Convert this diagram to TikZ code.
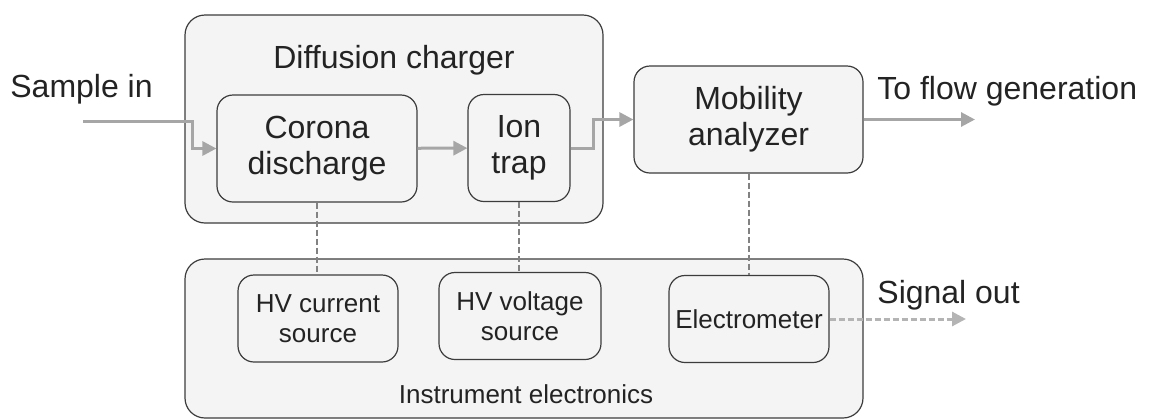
\documentclass[tikz,border=0pt]{standalone}
\usepackage{fontspec}
\setmainfont{Liberation Sans}
\usetikzlibrary{arrows.meta,positioning}
\definecolor{box-draw}{RGB}{60,60,60}
\definecolor{box-fill}{RGB}{244,244,244}
\definecolor{flow-gray}{RGB}{166,166,166}
\definecolor{ctl-gray}{RGB}{130,130,130}
\definecolor{sig-gray}{RGB}{180,180,180}
\definecolor{txt}{RGB}{35,35,35}

\begin{document}
\begin{tikzpicture}[
 x=0.5pt, y=-0.5pt,
 grp/.style={draw=box-draw, line width=0.6pt, rounded corners=10pt, fill=box-fill, inner sep=0pt},
 box/.style={draw=box-draw, line width=0.6pt, rounded corners=8pt, fill=box-fill, align=center,
 text=txt, font=\fontsize{16}{18}\selectfont, minimum height=53.5pt, inner sep=0pt},
 sbox/.style={box, font=\fontsize{13}{15}\selectfont, minimum width=80pt, minimum height=43.5pt},
 io/.style={anchor=base west, text=txt, font=\fontsize{16}{18}\selectfont, inner sep=0pt},
 ar/.style={-{Triangle[length=7pt,width=7pt]}, flow-gray, line width=1.5pt},
 ctl/.style={ctl-gray, line width=1pt, dash pattern=on 3pt off 1.5pt},
 sig/.style={ar, sig-gray, dash pattern=on 3pt off 1.5pt},
]
 \useasboundingbox (0,0) rectangle (1152,419);
 \node[grp, minimum width=209pt, minimum height=104pt] (chg) at (394,119) {};
 \node[io, anchor=base] (chgt) at (394,68) {Diffusion charger};
 \node[box, minimum width=100pt] (cor) at (317,148.5) {Corona\\discharge};
 \node[box, minimum width=51pt] (ion) at (519,148) {Ion\\trap};
 \node[box, minimum width=114.5pt] (mob) at (748.5,119.5) {Mobility\\analyzer};

 \node[grp, minimum width=339pt, minimum height=79.5pt] (elx) at (524,338.5) {};
 \node[io, anchor=base, font=\fontsize{13}{15}\selectfont] (elxt) at (526,403) {Instrument electronics};
 \node[sbox] (hvc) at (318,318.5) {HV current\\source};
 \node[sbox, minimum width=81pt] (hvv) at (520,316) {HV voltage\\source};
 \node[sbox] (elm) at (749,319) {Electrometer};

 \node[io] (smp) at (10,97) {Sample in};
 \node[io] (tofl) at (877,99) {To flow generation};
 \node[io] (sigo) at (877,303) {Signal out};
 \coordinate (inl) at (83,121);
 \coordinate (outl) at (975,120);
 \coordinate (sige) at (966,322);

 \draw[ar] (inl) -| ([xshift=-12pt]cor.west) -- (cor.west);
 \draw[ar] (cor) -- (ion);
 \draw[ar] (ion.east) -- ++(23,0) |- (mob.west);
 \draw[ar] (mob.east) -- (mob.east -| outl);
 %
 \draw[ctl] (cor.south) -- (cor.south |- hvc.north);
 \draw[ctl] (ion.south) -- (ion.south |- hvv.north);
 \draw[ctl] (mob.south) -- (mob.south |- elm.north);
 \draw[sig] (elm.east) -- (elm.east -| sige);
\end{tikzpicture}
\end{document}
